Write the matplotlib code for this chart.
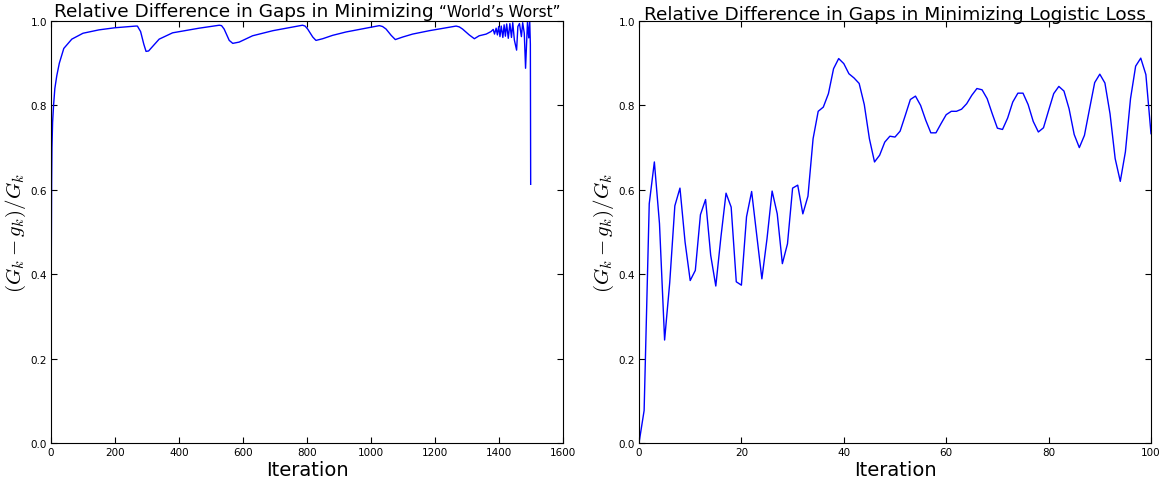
import matplotlib
matplotlib.use("Agg")
import matplotlib.pyplot as plt
from matplotlib.offsetbox import TextArea, HPacker, AnchoredOffsetbox

plt.rcParams['mathtext.fontset'] = 'cm'

# "World's Worst" run: values at key iterations
worst_iter = [0, 1, 2, 3, 5, 8, 12, 18, 26, 40, 65, 100, 150, 200, 265,
              270, 280, 290, 297, 305, 312, 338, 380, 463, 526,
              533, 541, 557, 568, 588, 630, 693, 786,
              794, 802, 818, 828, 849, 880, 922, 1026,
              1036, 1047, 1063, 1076, 1099, 1130, 1182, 1266,
              1276, 1286, 1307, 1323, 1338, 1360, 1375,
              1382, 1386, 1391, 1395, 1399, 1403, 1407, 1412, 1416, 1420,
              1424, 1429, 1434, 1439, 1443, 1448, 1455, 1459, 1464, 1470,
              1474, 1479, 1483, 1489, 1493, 1496, 1498, 1499]
worst_gap = [0.0, 0.45, 0.62, 0.70, 0.76, 0.80, 0.84, 0.87, 0.90, 0.935, 0.957, 0.971, 0.979, 0.984, 0.988,
             0.988, 0.975, 0.945, 0.928, 0.929, 0.935, 0.957, 0.972, 0.983, 0.990,
             0.989, 0.981, 0.954, 0.947, 0.950, 0.965, 0.977, 0.990,
             0.988, 0.981, 0.962, 0.954, 0.958, 0.966, 0.974, 0.989,
             0.987, 0.981, 0.966, 0.956, 0.962, 0.969, 0.977, 0.988,
             0.986, 0.981, 0.967, 0.958, 0.965, 0.969, 0.975,
             0.980, 0.969, 0.983, 0.967, 0.987, 0.963, 0.988, 0.961, 0.991, 0.964,
             0.993, 0.959, 0.994, 0.961, 0.996, 0.955, 0.931, 0.987, 0.994, 0.963,
             0.996, 0.971, 0.888, 0.998, 0.960, 1.0, 0.945, 0.613]

# logistic loss run, one value per iteration 0..100
logistic_gap = [0.0, 0.077, 0.567, 0.666, 0.52, 0.244, 0.38, 0.562, 0.604, 0.476,
                0.385, 0.409, 0.541, 0.577, 0.445, 0.372, 0.488, 0.592, 0.559, 0.382,
                0.374, 0.536, 0.596, 0.492, 0.389, 0.484, 0.597, 0.543, 0.425, 0.472,
                0.604, 0.611, 0.543, 0.585, 0.721, 0.786, 0.796, 0.828, 0.887, 0.911,
                0.899, 0.875, 0.865, 0.852, 0.802, 0.721, 0.666, 0.682, 0.713, 0.727,
                0.725, 0.739, 0.776, 0.814, 0.822, 0.80, 0.765, 0.735, 0.735, 0.757,
                0.778, 0.786, 0.786, 0.791, 0.804, 0.824, 0.84, 0.837, 0.816, 0.78,
                0.746, 0.743, 0.77, 0.808, 0.829, 0.829, 0.802, 0.762, 0.737, 0.747,
                0.788, 0.828, 0.845, 0.834, 0.792, 0.731, 0.70, 0.729, 0.792, 0.854,
                0.874, 0.853, 0.78, 0.674, 0.62, 0.69, 0.816, 0.893, 0.912, 0.873, 0.733]
logistic_iter = list(range(len(logistic_gap)))

ylab = r'$(G_k - g_k)/G_k$'

fig = plt.figure(figsize=(11.66, 4.89), dpi=100)
ax1 = fig.add_axes([51 / 1166, 45 / 489, 512 / 1166, 422 / 489])
ax2 = fig.add_axes([639 / 1166, 45 / 489, 512 / 1166, 422 / 489])

ax1.plot(worst_iter, worst_gap, color='b', lw=1)
ax1.set_xlim(0, 1600)
ax1.set_xticks(range(0, 1601, 200))

ax2.plot(logistic_iter, logistic_gap, color='b', lw=1)
ax2.set_xlim(0, 100)
ax2.set_xticks(range(0, 101, 20))

for ax in (ax1, ax2):
    ax.set_ylim(0, 1.0)
    ax.set_yticks([0.0, 0.2, 0.4, 0.6, 0.8, 1.0])
    ax.tick_params(direction='in', top=True, right=True, length=4, labelsize=7.5, pad=3)
    ax.set_xlabel('Iteration', fontsize=14, labelpad=2)
    ax.set_ylabel(ylab, fontsize=15, labelpad=2)

# left title has a smaller trailing part
main = TextArea('Relative Difference in Gaps in Minimizing ', textprops=dict(fontsize=13.3))
tail = TextArea('\u201cWorld\u2019s Worst\u201d', textprops=dict(fontsize=11))
box = HPacker(children=[main, tail], align='baseline', pad=0, sep=0)
anch = AnchoredOffsetbox(loc='lower center', child=box, frameon=False, pad=0, borderpad=0,
                         bbox_to_anchor=(0.5, 1.002), bbox_transform=ax1.transAxes)
ax1.add_artist(anch)

ax2.set_title('Relative Difference in Gaps in Minimizing Logistic Loss', fontsize=13.3, pad=1.5)

fig.savefig('out.png', dpi=100)
